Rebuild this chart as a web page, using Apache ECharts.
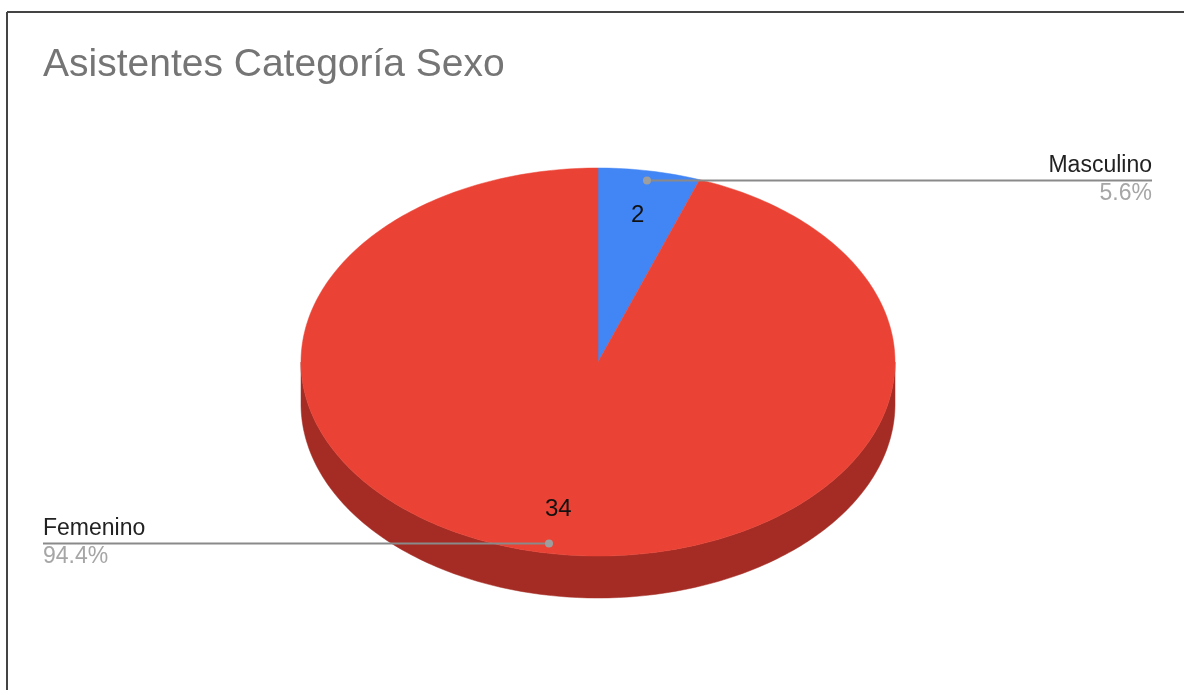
<!DOCTYPE html>
<html>
<head>
<meta charset="utf-8">
<script src="https://cdn.jsdelivr.net/npm/echarts@6/dist/echarts.min.js"></script>
<style>
  html, body { margin: 0; padding: 0; background: #fff; }
  #chart { width: 1184px; height: 690px; }
</style>
</head>
<body>
<div id="chart"></div>
<script>
// ---- data ----
var titleText = 'Asistentes Categoría Sexo';
var categories = ['Masculino', 'Femenino'];
var values = [2, 34];
var colors = ['#4285F4', '#EA4335'];
var sideColors = ['#2A5CB0', '#A52C24'];

var total = values.reduce(function (a, b) { return a + b; }, 0);
var starts = [];
(function () { var acc = 0; for (var i = 0; i < values.length; i++) { starts.push(acc); acc += values[i]; } })();

var chart = echarts.init(document.getElementById('chart'), null, { renderer: 'canvas' });

// geometry (layout only)
var CX = 598, CY = 362, RX = 297, RY = 194, DEPTH = 42;
var LEFT_X = 43, RIGHT_X = 1152;
var FONT = '"Liberation Sans", Arial, sans-serif';

function pt(thetaDeg, f) {
  var t = thetaDeg * Math.PI / 180;
  return [CX + RX * f * Math.sin(t), CY - RY * f * Math.cos(t)];
}
function arcPts(a0, a1, f, dy) {
  var pts = [];
  var n = Math.max(4, Math.ceil(Math.abs(a1 - a0) / 1));
  for (var i = 0; i <= n; i++) {
    var a = a0 + (a1 - a0) * i / n;
    var p = pt(a, f);
    pts.push([p[0], p[1] + (dy || 0)]);
  }
  return pts;
}

function renderItem(params, api) {
  var idx = params.dataIndex;
  var v = api.value(1);
  var a0 = starts[idx] / total * 360;
  var a1 = (starts[idx] + v) / total * 360;
  var children = [];

  // side wall (front half: 90..270)
  var s0 = Math.max(a0, 90), s1 = Math.min(a1, 270);
  if (s1 > s0) {
    var topArc = arcPts(s0, s1, 1, 0);
    var botArc = arcPts(s1, s0, 1, DEPTH);
    children.push({
      type: 'polygon', z2: 1,
      shape: { points: topArc.concat(botArc) },
      style: { fill: sideColors[idx], stroke: sideColors[idx], lineWidth: 0.5 }
    });
  }
  // top face
  var topPts = [[CX, CY]].concat(arcPts(a0, a1, 1, 0));
  children.push({
    type: 'polygon', z2: 10,
    shape: { points: topPts },
    style: { fill: colors[idx], stroke: colors[idx], lineWidth: 0.5 }
  });

  var mid = (a0 + a1) / 2;
  // value label
  var vp = pt(mid, 0.77);
  children.push({
    type: 'text', z2: 30,
    style: {
      x: vp[0], y: vp[1], text: String(v),
      fill: '#111', font: '24px ' + FONT,
      align: 'center', verticalAlign: 'middle'
    }
  });

  // leader
  var dp = pt(mid, 0.95);
  var onRight = Math.sin(mid * Math.PI / 180) >= 0;
  var lx = onRight ? RIGHT_X : LEFT_X;
  children.push({
    type: 'line', z2: 20,
    shape: { x1: dp[0], y1: dp[1], x2: lx, y2: dp[1] },
    style: { stroke: '#8a8a8a', lineWidth: 2 }
  });
  children.push({
    type: 'circle', z2: 21,
    shape: { cx: dp[0], cy: dp[1], r: 4 },
    style: { fill: '#9e9e9e' }
  });
  var pct = (v / total * 100).toFixed(1) + '%';
  children.push({
    type: 'text', z2: 30,
    style: {
      x: lx, y: dp[1] - 3, text: categories[idx],
      fill: '#222', font: '23px ' + FONT,
      align: onRight ? 'right' : 'left', verticalAlign: 'bottom'
    }
  });
  children.push({
    type: 'text', z2: 30,
    style: {
      x: lx, y: dp[1] + 2, text: pct,
      fill: '#a6a6a6', font: '23px ' + FONT,
      align: onRight ? 'right' : 'left', verticalAlign: 'top'
    }
  });

  return { type: 'group', children: children };
}

var option = {
  backgroundColor: '#ffffff',
  animation: false,
  title: {
    text: titleText,
    left: 38, top: 41,
    textStyle: { color: '#757575', fontSize: 39, fontWeight: 'normal', fontFamily: FONT }
  },
  graphic: [
    { type: 'line', shape: { x1: 7, y1: 12, x2: 1184, y2: 12 }, style: { stroke: '#444', lineWidth: 2 } },
    { type: 'line', shape: { x1: 7, y1: 12, x2: 7, y2: 690 }, style: { stroke: '#444', lineWidth: 2 } }
  ],
  series: [{
    type: 'custom',
    coordinateSystem: 'none',
    renderItem: renderItem,
    data: categories.map(function (c, i) { return [i, values[i]]; })
  }]
};
chart.setOption(option);
</script>
</body>
</html>
